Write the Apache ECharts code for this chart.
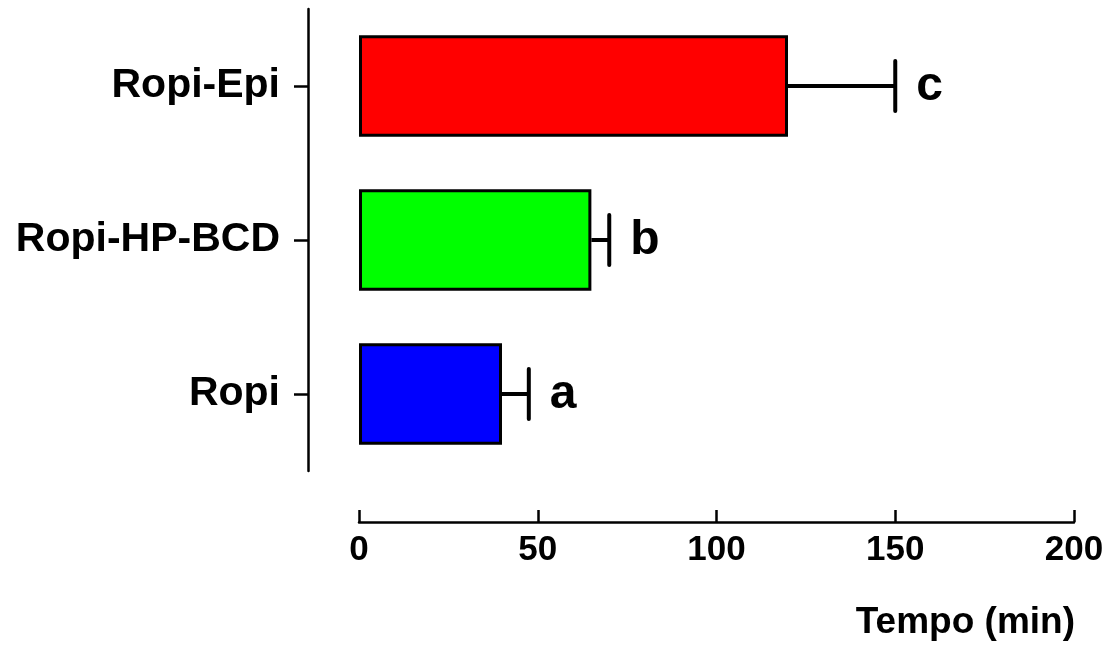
<!DOCTYPE html>
<html>
<head>
<meta charset="utf-8">
<script src="https://cdn.jsdelivr.net/npm/echarts@6/dist/echarts.min.js"></script>
<style>
  html, body { margin: 0; padding: 0; background: #fff; }
  #chart { width: 1110px; height: 654px; }
</style>
</head>
<body>
<div id="chart"></div>
<script>
// data, bottom to top as drawn
var categories = ['Ropi', 'Ropi-HP-BCD', 'Ropi-Epi']
var means = [40, 65, 120]
var errorTops = [47.5, 70, 150]
var letters = ['a', 'b', 'c']
var barColors = ['#0000ff', '#00ff00', '#ff0000']
var xTicks = [0, 50, 100, 150, 200]

var font = 'Liberation Sans, Arial, Helvetica, sans-serif'

var chart = echarts.init(document.getElementById('chart'))

var errorData = categories.map(function (c, i) {
  return [i, means[i], errorTops[i]]
})

var option = {
  animation: false,
  grid: { left: 359, right: 36, top: 9, bottom: 183 },
  xAxis: {
    type: 'value',
    min: xTicks[0],
    max: xTicks[xTicks.length - 1],
    interval: 50,
    offset: 51,
    splitLine: { show: false },
    axisLine: { show: true, onZero: false, lineStyle: { color: '#000', width: 2.5 } },
    axisTick: { show: true, inside: true, length: 12, lineStyle: { color: '#000', width: 2.5 } },
    axisLabel: {
      margin: 11,
      color: '#000',
      fontFamily: font,
      fontWeight: 'bold',
      fontSize: 35
    },
    name: 'Tempo (min)',
    nameLocation: 'end',
    nameGap: 1,
    nameTextStyle: {
      color: '#000',
      fontFamily: font,
      fontWeight: 'bold',
      fontSize: 37,
      align: 'right',
      verticalAlign: 'top',
      padding: [82, 0, 0, 0]
    }
  },
  yAxis: {
    type: 'category',
    data: categories,
    offset: 51,
    axisLine: { show: true, onZero: false, lineStyle: { color: '#000', width: 2.5 } },
    axisTick: { show: true, length: 14, alignWithLabel: true, lineStyle: { color: '#000', width: 2.5 } },
    axisLabel: {
      margin: 28,
      color: '#000',
      fontFamily: font,
      fontWeight: 'bold',
      fontSize: 41
    }
  },
  series: [
    {
      type: 'bar',
      barWidth: '66%',
      data: means.map(function (v, i) {
        return { value: v, itemStyle: { color: barColors[i] } }
      }),
      itemStyle: { borderColor: '#000', borderWidth: 3 }
    },
    {
      type: 'custom',
      data: errorData,
      z: 5,
      renderItem: function (params, api) {
        var idx = api.value(0)
        var start = api.coord([api.value(1), idx])
        var end = api.coord([api.value(2), idx])
        var half = 25
        return {
          type: 'group',
          children: [
            {
              type: 'line',
              shape: { x1: start[0], y1: start[1], x2: end[0], y2: end[1] },
              style: { stroke: '#000', lineWidth: 4 }
            },
            {
              type: 'line',
              shape: { x1: end[0], y1: end[1] - half, x2: end[0], y2: end[1] + half },
              style: { stroke: '#000', lineWidth: 4, lineCap: 'round' }
            },
            {
              type: 'text',
              style: {
                x: end[0] + 21,
                y: end[1] + 1,
                text: letters[params.dataIndex],
                fill: '#000',
                font: 'bold 48px ' + font,
                verticalAlign: 'middle'
              }
            }
          ]
        }
      }
    }
  ]
}

chart.setOption(option)
</script>
</body>
</html>
